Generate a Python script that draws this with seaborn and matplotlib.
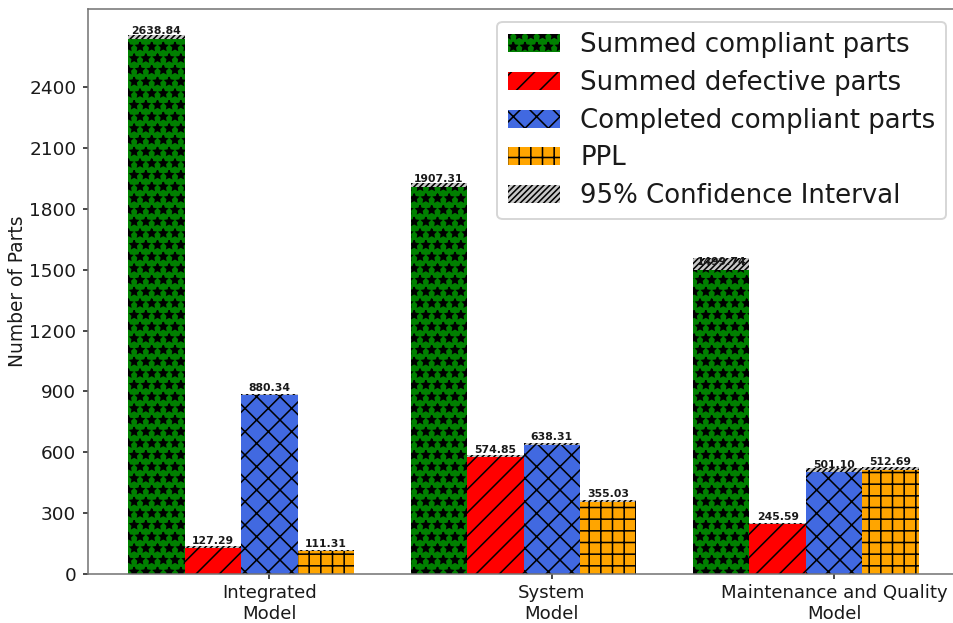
import numpy as np
import pandas as pd
import matplotlib
matplotlib.use("Agg")
import matplotlib.pyplot as plt
import seaborn as sns
from matplotlib.patches import Patch

# --- data -------------------------------------------------------------
models = ["Integrated\nModel", "System\nModel", "Maintenance and Quality\nModel"]
series = ["Summed compliant parts", "Summed defective parts",
          "Completed compliant parts", "PPL"]

compliant = [2638.84, 1907.31, 1499.74]
defective = [127.29, 574.85, 245.59]
completed = [880.34, 638.31, 501.10]
ppl = [111.31, 355.03, 512.69]

# 95% confidence interval extent stacked on top of each bar
compliant_ci = [17, 22, 57]
defective_ci = [11, 12, 7]
completed_ci = [6, 9, 20]
ppl_ci = [7, 10, 16]

yticks = [0, 300, 600, 900, 1200, 1500, 1800, 2100, 2400]

# --- style ------------------------------------------------------------
colors = ["green", "red", "royalblue", "orange"]
hatches = ["**", "//", "xx", "++"]
ci_color = "#c8c8c8"
ci_hatch = "////////"
ci_label = "95% Confidence Interval"

sns.set_style("ticks", {"axes.edgecolor": "0.45", "text.color": "0.1",
                        "xtick.color": "0.1", "ytick.color": "0.1",
                        "axes.labelcolor": "0.1"})
plt.rcParams["font.family"] = ["DejaVu Sans"]
plt.rcParams["hatch.linewidth"] = 0.8
plt.rcParams["hatch.color"] = "black"

values = [compliant, defective, completed, ppl]
cis = [compliant_ci, defective_ci, completed_ci, ppl_ci]

df = pd.DataFrame({
    "Model": [m for vals in values for m in models],
    "Series": [s for s, vals in zip(series, values) for _ in vals],
    "Parts": [v for vals in values for v in vals],
})

DPI = 140
fig = plt.figure(figsize=(953 / DPI, 623 / DPI), dpi=DPI)
ax = fig.add_axes([88 / 953, 49 / 623, 871 / 953, 565 / 623])

sns.barplot(data=df, x="Model", y="Parts", hue="Series", order=models,
            hue_order=series, palette=colors, saturation=1, width=0.8,
            errorbar=None, edgecolor="black", linewidth=0, legend=False, ax=ax)

bar_containers = list(ax.containers)
for container, hatch, vals, ci in zip(bar_containers, hatches, values, cis):
    for bar, v, c in zip(container, vals, ci):
        bar.set_hatch(hatch)
        x0, w = bar.get_x(), bar.get_width()
        ax.bar(x0, c, width=w, bottom=v, align="edge", color=ci_color,
               hatch=ci_hatch, edgecolor="black", linewidth=0)
        ax.text(x0 + w / 2, v + 13, f"{v:.2f}", ha="center", va="bottom",
                fontsize=5.6, fontweight="bold", color="0.1")

# ticks sit under the third bar of each group
third = bar_containers[2]
ax.set_xticks([b.get_x() + b.get_width() / 2 for b in third])
ax.set_xticklabels(models, fontsize=9.3)
ax.set_yticks(yticks)
ax.set_yticklabels([str(t) for t in yticks], fontsize=9.5)
ax.tick_params(length=2.5, width=0.8)
ax.tick_params(axis="x", pad=2.5)
ax.set_xlim(-0.542, 2.542)
ax.set_ylim(0, 2785)
ax.set_xlabel("")
ax.set_ylabel("Number of Parts", fontsize=9.6, labelpad=1)

handles = [Patch(facecolor=c, hatch=h, edgecolor="black", linewidth=0, label=s)
           for c, h, s in zip(colors, hatches, series)]
handles.append(Patch(facecolor=ci_color, hatch=ci_hatch, edgecolor="black",
                     linewidth=0, label=ci_label))
ax.legend(handles=handles, loc="upper right", fontsize=13.35, frameon=True,
          handlelength=2.0, borderaxespad=0.5, labelspacing=0.45)

fig.savefig("out.png", dpi=DPI)
